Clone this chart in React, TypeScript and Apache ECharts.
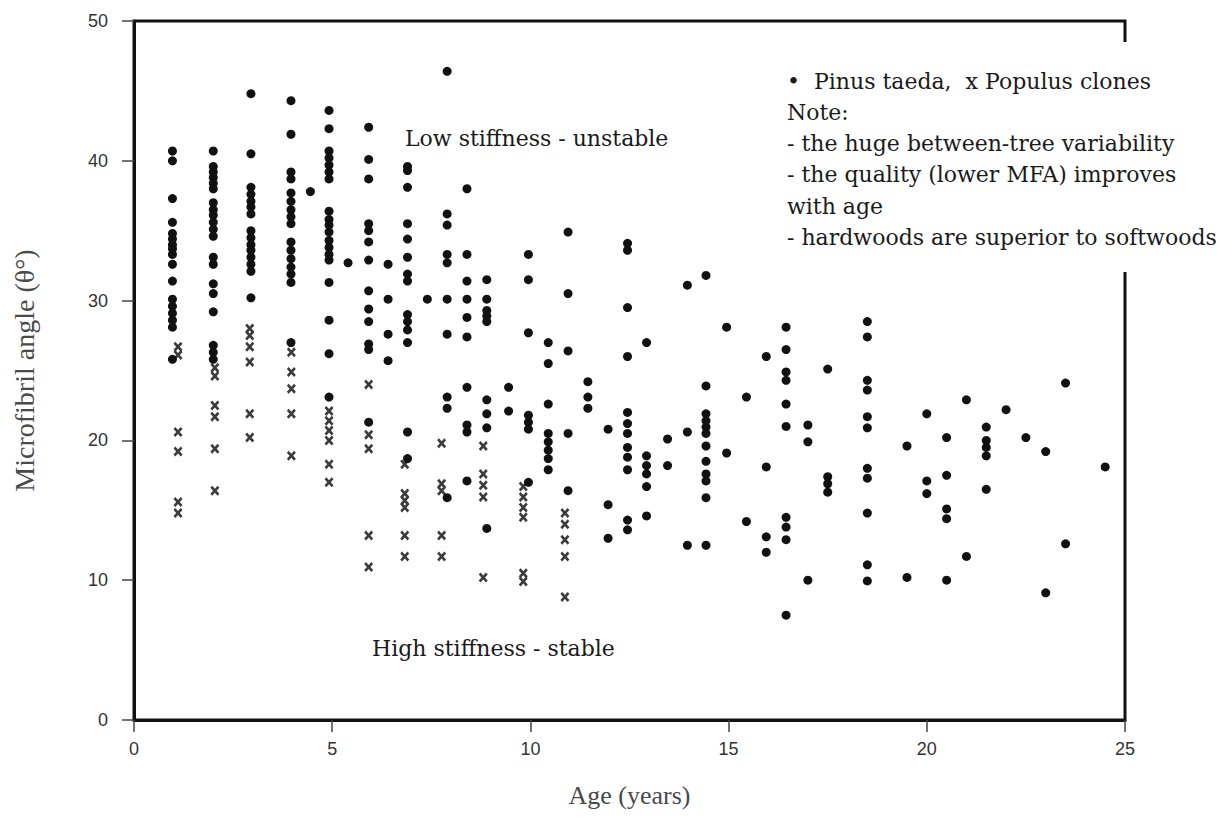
import React, { useEffect, useRef } from "react";
import * as echarts from "echarts";

// Pinus taeda (dots): ages and microfibril angles per age column
const pinusAges = [
  0.97, 2.0, 2.95, 3.96, 4.45, 4.92, 5.4, 5.92, 6.41, 6.9, 7.4, 7.9, 8.4, 8.9, 9.45, 9.95, 10.45,
  10.95, 11.45, 11.96, 12.45, 12.93, 13.46, 13.96, 14.43, 14.95, 15.45, 15.95, 16.45, 17.0, 17.5,
  18.5, 19.5, 20.0, 20.5, 21.0, 21.5, 22.0, 22.5, 23.0, 23.5, 24.5,
];
const pinusMFA: number[][] = [
  [40.7, 40.0, 37.3, 35.6, 34.8, 34.4, 34.0, 33.7, 33.3, 32.6, 31.4, 30.1, 29.6, 29.1, 28.6, 28.1, 25.8],
  [40.7, 39.6, 39.2, 38.8, 38.4, 38.0, 37.0, 36.5, 36.1, 35.6, 35.1, 34.6, 33.1, 32.6, 31.2, 30.5, 29.2, 26.8, 26.3, 25.8],
  [44.8, 40.5, 38.1, 37.6, 37.1, 36.7, 36.2, 35.0, 34.5, 34.0, 33.6, 33.1, 32.6, 32.1, 30.2],
  [44.3, 41.9, 39.2, 38.7, 37.7, 37.1, 36.5, 36.0, 35.5, 34.2, 33.6, 33.0, 32.4, 31.9, 31.3, 27.0],
  [37.8],
  [43.6, 42.3, 40.7, 40.2, 39.7, 39.2, 38.7, 36.4, 35.8, 35.4, 34.9, 34.3, 33.8, 33.3, 32.9, 31.3, 28.6, 26.2, 23.1],
  [32.7],
  [42.4, 40.1, 38.7, 35.5, 35.0, 34.2, 32.9, 30.7, 29.4, 28.5, 26.9, 26.5, 21.3],
  [32.6, 30.1, 27.6, 25.7],
  [39.6, 39.3, 38.1, 35.5, 34.4, 33.1, 31.9, 31.4, 29.0, 28.5, 27.9, 27.0, 20.6, 18.7],
  [30.1],
  [46.4, 36.2, 35.4, 33.3, 32.7, 30.1, 27.6, 23.1, 22.3, 15.9],
  [38.0, 33.3, 31.4, 30.1, 28.8, 27.4, 23.8, 21.1, 20.6, 17.1],
  [31.5, 30.1, 29.3, 28.9, 28.5, 22.9, 21.9, 20.9, 13.7],
  [23.8, 22.1],
  [33.3, 31.5, 27.7, 21.8, 21.3, 20.8, 17.0],
  [27.0, 25.5, 22.6, 20.5, 19.9, 19.3, 18.7, 17.9],
  [34.9, 30.5, 26.4, 20.5, 16.4],
  [24.2, 23.1, 22.3],
  [20.8, 15.4, 13.0],
  [34.1, 33.6, 29.5, 26.0, 22.0, 21.2, 20.5, 19.5, 18.8, 17.9, 14.3, 13.6],
  [27.0, 18.9, 18.2, 17.6, 16.7, 14.6],
  [20.1, 18.2],
  [31.1, 20.6, 12.5],
  [31.8, 23.9, 21.9, 21.4, 20.95, 20.5, 19.6, 18.5, 17.6, 17.1, 15.9, 12.5],
  [28.1, 19.1],
  [23.1, 14.2],
  [26.0, 18.1, 13.1, 12.0],
  [28.1, 26.5, 24.9, 24.3, 22.6, 21.0, 14.5, 13.8, 12.9, 7.5],
  [21.1, 19.9, 10.0],
  [25.1, 17.4, 16.9, 16.3],
  [28.5, 27.4, 24.3, 23.6, 21.7, 20.9, 18.0, 17.3, 14.8, 11.1, 9.95],
  [19.6, 10.2],
  [21.9, 17.1, 16.2],
  [20.2, 17.5, 15.1, 14.4, 10.0],
  [22.9, 11.7],
  [20.95, 20.0, 19.5, 18.9, 16.5],
  [22.2],
  [20.2],
  [19.2, 9.1],
  [24.1, 12.6],
  [18.1],
];

// Populus clones (x marks)
const populusAges = [1.11, 2.04, 2.92, 3.97, 4.92, 5.92, 6.83, 7.76, 8.81, 9.82, 10.87];
const populusMFA: number[][] = [
  [26.7, 26.1, 20.6, 19.2, 15.6, 14.8],
  [25.2, 24.6, 22.5, 21.7, 19.4, 16.4],
  [28.0, 27.5, 26.7, 25.6, 21.9, 20.2],
  [26.3, 24.9, 23.7, 21.9, 18.9],
  [22.1, 21.4, 20.7, 20.0, 18.3, 17.0],
  [24.0, 20.4, 19.4, 13.2, 10.95],
  [18.3, 16.2, 15.7, 15.2, 13.2, 11.7],
  [19.8, 16.9, 16.4, 13.2, 11.7],
  [19.6, 17.6, 16.8, 15.95, 10.2],
  [16.7, 15.95, 15.2, 14.5, 10.5, 9.9],
  [14.8, 14.0, 12.9, 11.7, 8.8],
];

const xAxisTitle = "Age (years)";
const yAxisTitle = "Microfibril angle (θ°)";
const lowLabel = "Low stiffness - unstable";
const highLabel = "High stiffness - stable";
const noteLines = [
  "•\u00a0\u00a0Pinus taeda,\u00a0\u00a0x Populus clones",
  "Note:",
  "- the huge between-tree variability",
  "- the quality (lower MFA) improves",
  "with age",
  "- hardwoods are superior to softwoods",
];

const toPoints = (ages: number[], values: number[][]) =>
  ages.flatMap((a, i) => values[i].map((v) => [a, v]));

const X_MARK =
  "path://M0,2 L2,0 L5,3 L8,0 L10,2 L7,5 L10,8 L8,10 L5,7 L2,10 L0,8 L3,5 Z";

export default function App() {
  const ref = useRef<HTMLDivElement>(null);

  useEffect(() => {
    if (!ref.current) return;
    const chart = echarts.init(ref.current, undefined, { renderer: "svg" });
    const serif = "DejaVu Serif";
    const noteTexts = noteLines.map((t, i) => ({
      type: "text",
      x: 787,
      y: 81 + i * 31.3,
      z: 101,
      style: {
        text: t,
        fontFamily: serif,
        fontSize: 22,
        fill: "#1a1a1a",
        align: "left",
        verticalAlign: "middle",
      },
    }));
    chart.setOption({
      animation: false,
      backgroundColor: "#ffffff",
      grid: {
        left: 134,
        right: 95,
        top: 21,
        bottom: 102,
        show: true,
        borderColor: "#111",
        borderWidth: 3,
        backgroundColor: "transparent",
        outerBoundsMode: "none",
      },
      xAxis: {
        type: "value",
        min: 0,
        max: 25,
        interval: 5,
        name: xAxisTitle,
        nameLocation: "middle",
        nameGap: 62,
        nameTextStyle: { fontFamily: "Liberation Serif", fontSize: 26, color: "#4a4a4a" },
        axisLine: { show: true, onZero: false, lineStyle: { color: "#111", width: 3 } },
        axisTick: { show: true, length: 12, lineStyle: { color: "#444", width: 1.5 } },
        axisLabel: { margin: 20, fontFamily: "Liberation Sans", fontSize: 18, color: "#333" },
        splitLine: { show: false },
      },
      yAxis: {
        type: "value",
        min: 0,
        max: 50,
        interval: 10,
        name: yAxisTitle,
        nameLocation: "middle",
        nameRotate: 90,
        nameGap: 96,
        nameTextStyle: { fontFamily: "Liberation Serif", fontSize: 28, color: "#4a4a4a" },
        axisLine: { show: true, onZero: false, lineStyle: { color: "#111", width: 3 } },
        axisTick: { show: true, length: 12, lineStyle: { color: "#444", width: 1.5 } },
        axisLabel: { margin: 26, fontFamily: "Liberation Sans", fontSize: 18, color: "#333" },
        splitLine: { show: false },
      },
      series: [
        {
          name: "Pinus taeda",
          type: "scatter",
          data: toPoints(pinusAges, pinusMFA),
          symbol: "circle",
          symbolSize: 9,
          itemStyle: { color: "#111", opacity: 1 },
          z: 3,
        },
        {
          name: "Populus clones",
          type: "scatter",
          data: toPoints(populusAges, populusMFA),
          symbol: X_MARK,
          symbolSize: [9, 10],
          itemStyle: { color: "#3c3c3c", opacity: 1 },
          z: 2,
        },
      ],
      graphic: [
        {
          type: "text",
          x: 405,
          y: 138,
          z: 101,
          style: {
            text: lowLabel,
            fontFamily: serif,
            fontSize: 22,
            fill: "#1a1a1a",
            align: "left",
            verticalAlign: "middle",
          },
        },
        {
          type: "text",
          x: 372,
          y: 648,
          z: 101,
          style: {
            text: highLabel,
            fontFamily: serif,
            fontSize: 22,
            fill: "#1a1a1a",
            align: "left",
            verticalAlign: "middle",
          },
        },
        {
          type: "rect",
          z: 100,
          shape: { x: 775, y: 42, width: 445, height: 230 },
          style: { fill: "#ffffff" },
        },
        ...noteTexts,
      ],
    });
    return () => chart.dispose();
  }, []);

  return (
    <div
      ref={ref}
      style={{ position: "absolute", left: 0, top: 0, width: 1220, height: 822, background: "#fff" }}
    />
  );
}
